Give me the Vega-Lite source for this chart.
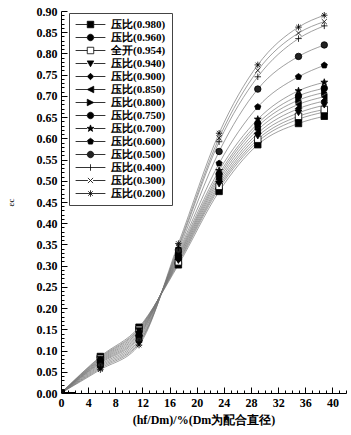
{
"$schema": "https://vega.github.io/schema/vega-lite/v6.json",
"width": 285, "height": 382,
"autosize": {"type": "none"},
"padding": {"left": 61, "top": 11, "right": 5, "bottom": 42},
"background": "white",
"config": {"view": {"stroke": null}, "font": "Liberation Serif"},
"datasets": {"d": [
{"s":"压比(0.980)","x":0,"y":0},{"s":"压比(0.980)","x":5.8,"y":0.086},{"s":"压比(0.980)","x":11.5,"y":0.155},{"s":"压比(0.980)","x":17.3,"y":0.302},{"s":"压比(0.980)","x":23.3,"y":0.475},{"s":"压比(0.980)","x":29,"y":0.585},{"s":"压比(0.980)","x":35,"y":0.635},{"s":"压比(0.980)","x":38.8,"y":0.652},
{"s":"压比(0.960)","x":0,"y":0},{"s":"压比(0.960)","x":5.8,"y":0.084},{"s":"压比(0.960)","x":11.5,"y":0.152},{"s":"压比(0.960)","x":17.3,"y":0.306},{"s":"压比(0.960)","x":23.3,"y":0.482},{"s":"压比(0.960)","x":29,"y":0.592},{"s":"压比(0.960)","x":35,"y":0.645},{"s":"压比(0.960)","x":38.8,"y":0.662},
{"s":"全开(0.954)","x":0,"y":0},{"s":"全开(0.954)","x":5.8,"y":0.082},{"s":"全开(0.954)","x":11.5,"y":0.150},{"s":"全开(0.954)","x":17.3,"y":0.309},{"s":"全开(0.954)","x":23.3,"y":0.487},{"s":"全开(0.954)","x":29,"y":0.598},{"s":"全开(0.954)","x":35,"y":0.652},{"s":"全开(0.954)","x":38.8,"y":0.668},
{"s":"压比(0.940)","x":0,"y":0},{"s":"压比(0.940)","x":5.8,"y":0.080},{"s":"压比(0.940)","x":11.5,"y":0.147},{"s":"压比(0.940)","x":17.3,"y":0.312},{"s":"压比(0.940)","x":23.3,"y":0.492},{"s":"压比(0.940)","x":29,"y":0.605},{"s":"压比(0.940)","x":35,"y":0.660},{"s":"压比(0.940)","x":38.8,"y":0.678},
{"s":"压比(0.900)","x":0,"y":0},{"s":"压比(0.900)","x":5.8,"y":0.078},{"s":"压比(0.900)","x":11.5,"y":0.144},{"s":"压比(0.900)","x":17.3,"y":0.315},{"s":"压比(0.900)","x":23.3,"y":0.498},{"s":"压比(0.900)","x":29,"y":0.612},{"s":"压比(0.900)","x":35,"y":0.670},{"s":"压比(0.900)","x":38.8,"y":0.688},
{"s":"压比(0.850)","x":0,"y":0},{"s":"压比(0.850)","x":5.8,"y":0.076},{"s":"压比(0.850)","x":11.5,"y":0.141},{"s":"压比(0.850)","x":17.3,"y":0.318},{"s":"压比(0.850)","x":23.3,"y":0.504},{"s":"压比(0.850)","x":29,"y":0.620},{"s":"压比(0.850)","x":35,"y":0.680},{"s":"压比(0.850)","x":38.8,"y":0.698},
{"s":"压比(0.800)","x":0,"y":0},{"s":"压比(0.800)","x":5.8,"y":0.074},{"s":"压比(0.800)","x":11.5,"y":0.138},{"s":"压比(0.800)","x":17.3,"y":0.321},{"s":"压比(0.800)","x":23.3,"y":0.510},{"s":"压比(0.800)","x":29,"y":0.628},{"s":"压比(0.800)","x":35,"y":0.690},{"s":"压比(0.800)","x":38.8,"y":0.708},
{"s":"压比(0.750)","x":0,"y":0},{"s":"压比(0.750)","x":5.8,"y":0.072},{"s":"压比(0.750)","x":11.5,"y":0.135},{"s":"压比(0.750)","x":17.3,"y":0.324},{"s":"压比(0.750)","x":23.3,"y":0.516},{"s":"压比(0.750)","x":29,"y":0.635},{"s":"压比(0.750)","x":35,"y":0.700},{"s":"压比(0.750)","x":38.8,"y":0.718},
{"s":"压比(0.700)","x":0,"y":0},{"s":"压比(0.700)","x":5.8,"y":0.070},{"s":"压比(0.700)","x":11.5,"y":0.132},{"s":"压比(0.700)","x":17.3,"y":0.328},{"s":"压比(0.700)","x":23.3,"y":0.524},{"s":"压比(0.700)","x":29,"y":0.645},{"s":"压比(0.700)","x":35,"y":0.712},{"s":"压比(0.700)","x":38.8,"y":0.732},
{"s":"压比(0.600)","x":0,"y":0},{"s":"压比(0.600)","x":5.8,"y":0.067},{"s":"压比(0.600)","x":11.5,"y":0.128},{"s":"压比(0.600)","x":17.3,"y":0.332},{"s":"压比(0.600)","x":23.3,"y":0.541},{"s":"压比(0.600)","x":29,"y":0.674},{"s":"压比(0.600)","x":35,"y":0.745},{"s":"压比(0.600)","x":38.8,"y":0.772},
{"s":"压比(0.500)","x":0,"y":0},{"s":"压比(0.500)","x":5.8,"y":0.064},{"s":"压比(0.500)","x":11.5,"y":0.124},{"s":"压比(0.500)","x":17.3,"y":0.337},{"s":"压比(0.500)","x":23.3,"y":0.569},{"s":"压比(0.500)","x":29,"y":0.716},{"s":"压比(0.500)","x":35,"y":0.793},{"s":"压比(0.500)","x":38.8,"y":0.820},
{"s":"压比(0.400)","x":0,"y":0},{"s":"压比(0.400)","x":5.8,"y":0.061},{"s":"压比(0.400)","x":11.5,"y":0.120},{"s":"压比(0.400)","x":17.3,"y":0.342},{"s":"压比(0.400)","x":23.3,"y":0.592},{"s":"压比(0.400)","x":29,"y":0.745},{"s":"压比(0.400)","x":35,"y":0.835},{"s":"压比(0.400)","x":38.8,"y":0.865},
{"s":"压比(0.300)","x":0,"y":0},{"s":"压比(0.300)","x":5.8,"y":0.058},{"s":"压比(0.300)","x":11.5,"y":0.117},{"s":"压比(0.300)","x":17.3,"y":0.346},{"s":"压比(0.300)","x":23.3,"y":0.601},{"s":"压比(0.300)","x":29,"y":0.760},{"s":"压比(0.300)","x":35,"y":0.848},{"s":"压比(0.300)","x":38.8,"y":0.875},
{"s":"压比(0.200)","x":0,"y":0},{"s":"压比(0.200)","x":5.8,"y":0.055},{"s":"压比(0.200)","x":11.5,"y":0.113},{"s":"压比(0.200)","x":17.3,"y":0.352},{"s":"压比(0.200)","x":23.3,"y":0.612},{"s":"压比(0.200)","x":29,"y":0.773},{"s":"压比(0.200)","x":35,"y":0.862},{"s":"压比(0.200)","x":38.8,"y":0.890}
]},
"data": {"name": "d"},
"encoding": {
  "x": {"field": "x", "type": "quantitative", "scale": {"domain": [0, 42], "nice": false},
    "axis": {"values": [0,1,2,3,4,5,6,7,8,9,10,11,12,13,14,15,16,17,18,19,20,21,22,23,24,25,26,27,28,29,30,31,32,33,34,35,36,37,38,39,40,41,42],
      "labelExpr": "datum.value % 4 === 0 ? datum.label : ''",
      "tickSize": {"condition": {"test": "datum.value % 4 === 0", "value": -6}, "value": -3},
      "labelPadding": 10, "labelOverlap": false, "labelFlush": false, "grid": false,
      "domainColor": "black", "tickColor": "black", "labelColor": "black",
      "labelFont": "Liberation Serif", "labelFontWeight": "bold", "labelFontSize": 12,
      "title": "(hf/Dm)/%(Dm为配合直径)", "titleFont": "Liberation Serif", "titleFontWeight": "bold", "titleFontSize": 12, "titleColor": "black", "titlePadding": 3}},
  "y": {"field": "y", "type": "quantitative", "scale": {"domain": [0, 0.9], "nice": false},
    "axis": {"values": [0,0.01,0.02,0.03,0.04,0.05,0.06,0.07,0.08,0.09,0.1,0.11,0.12,0.13,0.14,0.15,0.16,0.17,0.18,0.19,0.2,0.21,0.22,0.23,0.24,0.25,0.26,0.27,0.28,0.29,0.3,0.31,0.32,0.33,0.34,0.35,0.36,0.37,0.38,0.39,0.4,0.41,0.42,0.43,0.44,0.45,0.46,0.47,0.48,0.49,0.5,0.51,0.52,0.53,0.54,0.55,0.56,0.57,0.58,0.59,0.6,0.61,0.62,0.63,0.64,0.65,0.66,0.67,0.68,0.69,0.7,0.71,0.72,0.73,0.74,0.75,0.76,0.77,0.78,0.79,0.8,0.81,0.82,0.83,0.84,0.85,0.86,0.87,0.88,0.89,0.9],
      "labelExpr": "round(datum.value*100) % 5 === 0 ? format(datum.value, '.2f') : ''",
      "tickSize": {"condition": {"test": "round(datum.value*100) % 5 === 0", "value": -6}, "value": -3},
      "labelPadding": 10, "labelOverlap": false, "labelFlush": false, "grid": false,
      "domainColor": "black", "tickColor": "black", "labelColor": "black",
      "labelFont": "Liberation Serif", "labelFontWeight": "bold", "labelFontSize": 12,
      "title": "εc", "titleFont": "Liberation Serif", "titleFontWeight": "normal", "titleFontSize": 9, "titleColor": "black", "titlePadding": 21}}
},
"layer": [
  {"mark": {"type": "line", "interpolate": "monotone", "color": "#777", "strokeWidth": 0.7},
   "encoding": {"detail": {"field": "s"}}},
  {"transform": [{"filter": "datum.x > 0"}],
   "mark": {"type": "point", "filled": true, "stroke": "black", "strokeWidth": 0.8, "size": 42, "opacity": 1},
   "encoding": {
     "shape": {"field": "s", "type": "nominal", "legend": null,
       "scale": {"domain": ["压比(0.980)","压比(0.960)","全开(0.954)","压比(0.940)","压比(0.900)","压比(0.850)","压比(0.800)","压比(0.750)","压比(0.700)","压比(0.600)","压比(0.500)","压比(0.400)","压比(0.300)","压比(0.200)"],
         "range": ["square","circle","square","triangle-down","diamond","triangle-left","triangle-right","circle",
           "M0,-1.1L0.26,-0.36L1.05,-0.34L0.42,0.14L0.65,0.89L0,0.44L-0.65,0.89L-0.42,0.14L-1.05,-0.34L-0.26,-0.36Z",
           "M0,-1L0.951,-0.309L0.588,0.809L-0.588,0.809L-0.951,-0.309Z",
           "circle",
           "M-1,0L1,0M0,-1L0,1",
           "M-0.8,-0.8L0.8,0.8M-0.8,0.8L0.8,-0.8",
           "M-1,0L1,0M0,-1L0,1M-0.7,-0.7L0.7,0.7M-0.7,0.7L0.7,-0.7"]}},
     "fill": {"field": "s", "type": "nominal", "legend": null,
       "scale": {"domain": ["压比(0.980)","压比(0.960)","全开(0.954)","压比(0.940)","压比(0.900)","压比(0.850)","压比(0.800)","压比(0.750)","压比(0.700)","压比(0.600)","压比(0.500)","压比(0.400)","压比(0.300)","压比(0.200)"],
         "range": ["black","black","white","black","black","black","black","black","black","black","#222","transparent","transparent","transparent"]}}
   }},
  {"transform": [{"filter": "datum.x == 0"}],
   "mark": {"type": "point", "filled": true, "strokeWidth": 0.8, "size": 42, "opacity": 1, "clip": true},
   "encoding": {
     "shape": {"field": "s", "type": "nominal",
       "scale": {"domain": ["压比(0.980)","压比(0.960)","全开(0.954)","压比(0.940)","压比(0.900)","压比(0.850)","压比(0.800)","压比(0.750)","压比(0.700)","压比(0.600)","压比(0.500)","压比(0.400)","压比(0.300)","压比(0.200)"],
         "range": ["M-4.6,0L-1,0M1,0L4.6,0M-1,-1L1,-1L1,1L-1,1Z",
           "M-4.6,0L-1,0M1,0L4.6,0M1,0A1,1,0,1,1,-1,0A1,1,0,1,1,1,0Z",
           "M-4.6,0L-1,0M1,0L4.6,0M-1,-1L1,-1L1,1L-1,1Z",
           "M-4.6,0L-1,0M1,0L4.6,0M-1,-0.8L1,-0.8L0,1Z",
           "M-4.6,0L-1,0M1,0L4.6,0M0,-1L1,0L0,1L-1,0Z",
           "M-4.6,0L-1,0M1,0L4.6,0M1,-1L1,1L-1,0Z",
           "M-4.6,0L-1,0M1,0L4.6,0M-1,-1L-1,1L1,0Z",
           "M-4.6,0L-1,0M1,0L4.6,0M1,0A1,1,0,1,1,-1,0A1,1,0,1,1,1,0Z",
           "M-4.6,0L-1,0M1,0L4.6,0M0,-1.1L0.26,-0.36L1.05,-0.34L0.42,0.14L0.65,0.89L0,0.44L-0.65,0.89L-0.42,0.14L-1.05,-0.34L-0.26,-0.36Z",
           "M-4.6,0L-1,0M1,0L4.6,0M0,-1L0.951,-0.309L0.588,0.809L-0.588,0.809L-0.951,-0.309Z",
           "M-4.6,0L-1,0M1,0L4.6,0M1,0A1,1,0,1,1,-1,0A1,1,0,1,1,1,0Z",
           "M-4.6,0L4.6,0M0,-1L0,1",
           "M-4.6,0L-0.8,0M0.8,0L4.6,0M-0.8,-0.8L0.8,0.8M-0.8,0.8L0.8,-0.8",
           "M-4.6,0L4.6,0M0,-1L0,1M-0.7,-0.7L0.7,0.7M-0.7,0.7L0.7,-0.7"]},
       "legend": {"title": null, "orient": "none", "legendX": 8, "legendY": 2, "strokeColor": "#444", "fillColor": "white", "padding": 6,
         "symbolSize": 42, "symbolStrokeWidth": 0.8, "symbolOffset": 10, "labelOffset": 15,
         "labelFont": "Liberation Serif", "labelFontWeight": "bold", "labelFontSize": 11, "labelColor": "black", "labelLimit": 200, "rowPadding": 1}},
     "fill": {"field": "s", "type": "nominal",
       "scale": {"domain": ["压比(0.980)","压比(0.960)","全开(0.954)","压比(0.940)","压比(0.900)","压比(0.850)","压比(0.800)","压比(0.750)","压比(0.700)","压比(0.600)","压比(0.500)","压比(0.400)","压比(0.300)","压比(0.200)"],
         "range": ["black","black","white","black","black","black","black","black","black","black","#222","transparent","transparent","transparent"]},
       "legend": {"title": null, "orient": "none", "legendX": 8, "legendY": 2, "strokeColor": "#444", "fillColor": "white", "padding": 6,
         "symbolSize": 42, "symbolStrokeWidth": 0.8, "symbolOffset": 10, "labelOffset": 15,
         "labelFont": "Liberation Serif", "labelFontWeight": "bold", "labelFontSize": 11, "labelColor": "black", "labelLimit": 200, "rowPadding": 1}},
     "stroke": {"field": "s", "type": "nominal",
       "scale": {"domain": ["压比(0.980)","压比(0.960)","全开(0.954)","压比(0.940)","压比(0.900)","压比(0.850)","压比(0.800)","压比(0.750)","压比(0.700)","压比(0.600)","压比(0.500)","压比(0.400)","压比(0.300)","压比(0.200)"],
         "range": ["black","black","black","black","black","black","black","black","black","black","black","black","black","black"]},
       "legend": {"title": null, "orient": "none", "legendX": 8, "legendY": 2, "strokeColor": "#444", "fillColor": "white", "padding": 6,
         "symbolSize": 42, "symbolStrokeWidth": 0.8, "symbolOffset": 10, "labelOffset": 15,
         "labelFont": "Liberation Serif", "labelFontWeight": "bold", "labelFontSize": 11, "labelColor": "black", "labelLimit": 200, "rowPadding": 1}}
   }}
],
"resolve": {"scale": {"shape": "independent", "fill": "independent", "stroke": "independent"}}
}
